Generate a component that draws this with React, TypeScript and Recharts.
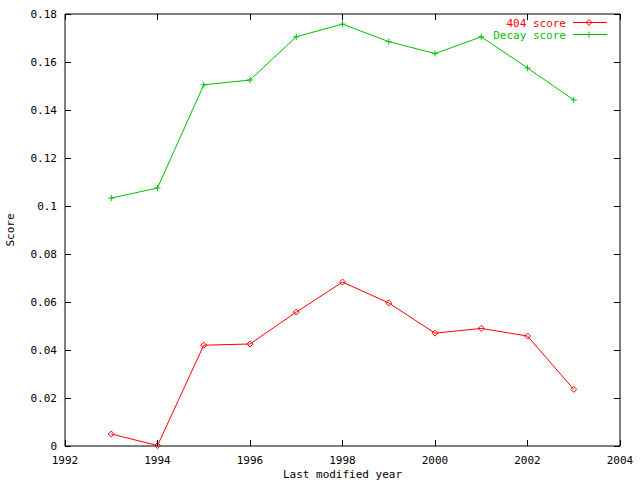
import React from 'react'
import {Legend, Line, LineChart, ReferenceLine, XAxis, YAxis} from 'recharts'

const years = [1993, 1994, 1995, 1996, 1997, 1998, 1999, 2000, 2001, 2002, 2003]
const score404 = [0.005, 0.0002, 0.042, 0.0425, 0.0558, 0.0683, 0.0596, 0.047, 0.049, 0.0458, 0.0236]
const decayScore = [0.1033, 0.1075, 0.1505, 0.1525, 0.1705, 0.1758, 0.1685, 0.1635, 0.1705, 0.1575, 0.1442]
const xTicks = [1992, 1994, 1996, 1998, 2000, 2002, 2004]
const yTicks = [0, 0.02, 0.04, 0.06, 0.08, 0.1, 0.12, 0.14, 0.16, 0.18]

const data = years.map((year, i) => ({year, s404: score404[i], decay: decayScore[i]}))

const FONT = '"DejaVu Sans Mono", monospace'
const RED = '#ff0000'
const GREEN = '#00c000'
// plot box: 65..620 x 14..446
const PLOT_W = 555
const PLOT_H = 432

const fmtY = (v: number) => String(Number(v.toFixed(2)))

// bottom tick + mirrored tick on the top border
const BottomTick = (props: any) => {
    const {x, y, payload} = props
    const top = y - PLOT_H
    return (
        <g>
            <line x1={x} y1={y} x2={x} y2={y - 6} stroke="#000" shapeRendering="crispEdges" />
            <line x1={x} y1={top} x2={x} y2={top + 6} stroke="#000" shapeRendering="crispEdges" />
            <text x={x} y={y + 18} textAnchor="middle" fontFamily={FONT} fontSize={11} fill="#000">{payload.value}</text>
        </g>
    )
}

// left tick + mirrored tick on the right border
const LeftTick = (props: any) => {
    const {x, y, payload} = props
    const right = x + PLOT_W
    return (
        <g>
            <line x1={x} y1={y} x2={x + 6} y2={y} stroke="#000" shapeRendering="crispEdges" />
            <line x1={right} y1={y} x2={right - 6} y2={y} stroke="#000" shapeRendering="crispEdges" />
            <text x={x - 8} y={y + 4} textAnchor="end" fontFamily={FONT} fontSize={11} fill="#000">{fmtY(payload.value)}</text>
        </g>
    )
}

const Diamond = (props: any) => {
    const {cx, cy, stroke} = props
    return <path key={props.key ?? `${cx}-${cy}`} d={`M${cx - 3},${cy}L${cx},${cy - 3}L${cx + 3},${cy}L${cx},${cy + 3}Z`} fill="none" stroke={stroke} />
}

const Plus = (props: any) => {
    const {cx, cy, stroke} = props
    return <path key={props.key ?? `${cx}-${cy}`} d={`M${cx - 3},${cy}H${cx + 3}M${cx},${cy - 3}V${cy + 3}`} fill="none" stroke={stroke} />
}

const LegendBox = ({payload}: any) => (
    <svg width={200} height={30}>
        {(payload || []).map((p: any, i: number) => {
            const cy = 8.5 + i * 12
            return (
                <g key={p.value}>
                    <text x={146} y={cy + 4} textAnchor="end" fontFamily={FONT} fontSize={11} fill={p.color}>{p.value}</text>
                    <line x1={153} y1={cy} x2={187} y2={cy} stroke={p.color} />
                    {i === 0
                        ? <Diamond cx={169} cy={cy} stroke={p.color} />
                        : <Plus cx={169} cy={cy} stroke={p.color} />}
                </g>
            )
        })}
    </svg>
)

const App = () => {
    return (
        <div style={{position: 'absolute', left: 0, top: 0, background: '#fff'}}>
            <LineChart width={640} height={480} data={data} margin={{top: 14, right: 20, bottom: 0, left: 0}}>
                <XAxis dataKey="year" type="number" domain={[1992, 2004]} ticks={xTicks} height={34}
                       tickSize={0} tickMargin={0} tickLine={false} tick={<BottomTick />} interval={0}
                       axisLine={{stroke: '#000'}}
                       label={{value: 'Last modified year', position: 'insideBottom', offset: 2, fill: '#000', fontSize: 11, fontFamily: FONT}} />
                <YAxis type="number" domain={[0, 0.18]} ticks={yTicks} width={65} interval={0}
                       tickSize={0} tickMargin={0} tickLine={false} tick={<LeftTick />}
                       axisLine={{stroke: '#000'}}
                       label={{value: 'Score', content: () => (
                           <text x={11} y={230} transform="rotate(-90 11 230)" textAnchor="middle" dominantBaseline="middle"
                                 fontFamily={FONT} fontSize={11} fill="#000">Score</text>
                       )}} />
                <ReferenceLine y={0.18} stroke="#000" />
                <ReferenceLine x={2004} stroke="#000" />
                <Legend layout="vertical" align="center" verticalAlign="middle" content={<LegendBox />}
                        wrapperStyle={{left: 420, top: 14, width: 200, height: 30}} />
                <Line type="linear" dataKey="s404" name="404 score" stroke={RED} strokeWidth={1}
                      dot={<Diamond />} activeDot={false} isAnimationActive={false} />
                <Line type="linear" dataKey="decay" name="Decay score" stroke={GREEN} strokeWidth={1}
                      dot={<Plus />} activeDot={false} isAnimationActive={false} />
            </LineChart>
        </div>
    )
}

export default App
